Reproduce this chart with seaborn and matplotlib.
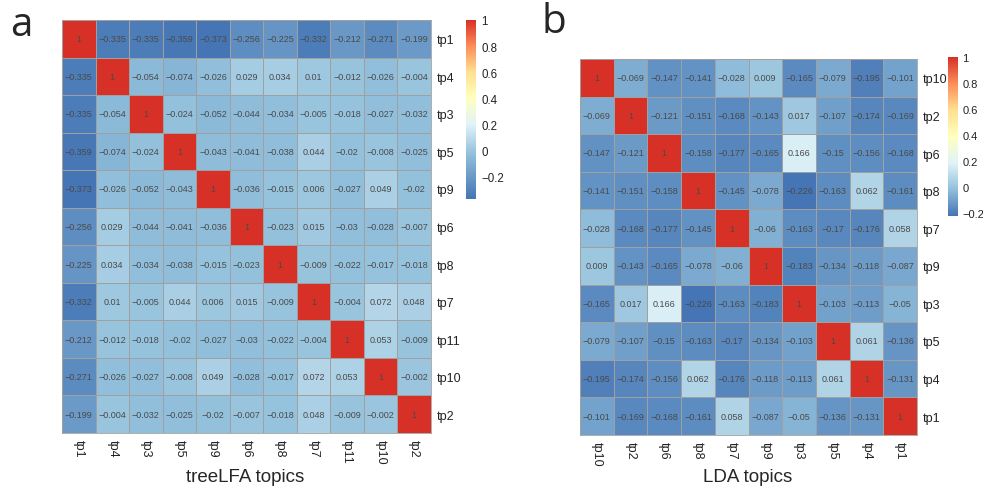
import numpy as np
import pandas as pd
import matplotlib
matplotlib.use("Agg")
import matplotlib.pyplot as plt
import seaborn as sns
from matplotlib.colors import LinearSegmentedColormap

# ---------------- data ----------------
tree_topics = ["tp1", "tp4", "tp3", "tp5", "tp9", "tp6", "tp8", "tp7", "tp11", "tp10", "tp2"]
tree_values = [
    [1, -0.335, -0.335, -0.359, -0.373, -0.256, -0.225, -0.332, -0.212, -0.271, -0.199],
    [-0.335, 1, -0.054, -0.074, -0.026, 0.029, 0.034, 0.01, -0.012, -0.026, -0.004],
    [-0.335, -0.054, 1, -0.024, -0.052, -0.044, -0.034, -0.005, -0.018, -0.027, -0.032],
    [-0.359, -0.074, -0.024, 1, -0.043, -0.041, -0.038, 0.044, -0.02, -0.008, -0.025],
    [-0.373, -0.026, -0.052, -0.043, 1, -0.036, -0.015, 0.006, -0.027, 0.049, -0.02],
    [-0.256, 0.029, -0.044, -0.041, -0.036, 1, -0.023, 0.015, -0.03, -0.028, -0.007],
    [-0.225, 0.034, -0.034, -0.038, -0.015, -0.023, 1, -0.009, -0.022, -0.017, -0.018],
    [-0.332, 0.01, -0.005, 0.044, 0.006, 0.015, -0.009, 1, -0.004, 0.072, 0.048],
    [-0.212, -0.012, -0.018, -0.02, -0.027, -0.03, -0.022, -0.004, 1, 0.053, -0.009],
    [-0.271, -0.026, -0.027, -0.008, 0.049, -0.028, -0.017, 0.072, 0.053, 1, -0.002],
    [-0.199, -0.004, -0.032, -0.025, -0.02, -0.007, -0.018, 0.048, -0.009, -0.002, 1],
]

lda_topics = ["tp10", "tp2", "tp6", "tp8", "tp7", "tp9", "tp3", "tp5", "tp4", "tp1"]
lda_values = [
    [1, -0.069, -0.147, -0.141, -0.028, 0.009, -0.165, -0.079, -0.195, -0.101],
    [-0.069, 1, -0.121, -0.151, -0.168, -0.143, 0.017, -0.107, -0.174, -0.169],
    [-0.147, -0.121, 1, -0.158, -0.177, -0.165, 0.166, -0.15, -0.156, -0.168],
    [-0.141, -0.151, -0.158, 1, -0.145, -0.078, -0.226, -0.163, 0.062, -0.161],
    [-0.028, -0.168, -0.177, -0.145, 1, -0.06, -0.163, -0.17, -0.176, 0.058],
    [0.009, -0.143, -0.165, -0.078, -0.06, 1, -0.183, -0.134, -0.118, -0.087],
    [-0.165, 0.017, 0.166, -0.226, -0.163, -0.183, 1, -0.103, -0.113, -0.05],
    [-0.079, -0.107, -0.15, -0.163, -0.17, -0.134, -0.103, 1, 0.061, -0.136],
    [-0.195, -0.174, -0.156, 0.062, -0.176, -0.118, -0.113, 0.061, 1, -0.131],
    [-0.101, -0.169, -0.168, -0.161, 0.058, -0.087, -0.05, -0.136, -0.131, 1],
]

cbar_ticks = [-0.2, 0, 0.2, 0.4, 0.6, 0.8, 1]
cbar_ticklabels = ["\u22120.2", "0", "0.2", "0.4", "0.6", "0.8", "1"]

panel_letters = ["a", "b"]
axis_titles = ["treeLFA topics", "LDA topics"]

# ---------------- style ----------------
sns.set_style("white")
plt.rcParams["font.family"] = ["Liberation Sans", "DejaVu Sans"]

palette = ["#4575B4", "#91BFDB", "#E0F3F8", "#FFFFBF", "#FEE090", "#FC8D59", "#D73027"]
cmap_b = LinearSegmentedColormap.from_list("rdylbu_r7", palette, N=256)
stops_a = [0.0, 0.25, 0.417, 0.563, 0.71, 0.855, 1.0]
cmap_a = LinearSegmentedColormap.from_list("rdylbu_r7a", list(zip(stops_a, palette)), N=256)

W, H = 983, 489
fig = plt.figure(figsize=(W / 100, H / 100), dpi=100)


def px_axes(x0, y0, x1, y1):
    return fig.add_axes([x0 / W, 1 - y1 / H, (x1 - x0) / W, (y1 - y0) / H])


def fmt_lab(v):
    s = f"{v:g}"
    return s.replace("-", "\u2212")


def draw(topics, values, cmap, hm_box, cb_box, cb_fs, cb_pad):
    df = pd.DataFrame(values, index=topics, columns=topics)
    annot = np.vectorize(fmt_lab)(df.values)
    ax = px_axes(*hm_box)
    cax = px_axes(*cb_box)
    vmin = df.values.min()
    vmax = df.values.max()
    sns.heatmap(df, ax=ax, cbar_ax=cax, cmap=cmap, vmin=vmin, vmax=vmax,
                annot=annot, fmt="", linewidths=0.6, linecolor="#A0A0A0",
                annot_kws={"fontsize": 6.5, "color": "#4a4a4a"},
                cbar_kws={"ticks": cbar_ticks})
    ax.yaxis.tick_right()
    ax.set_yticklabels(topics, rotation=0, fontsize=9, color="#222222")
    ax.set_xticklabels(topics, rotation=270, fontsize=9, color="#222222")
    ax.tick_params(axis="both", length=0, pad=4)
    ax.set_xlabel("")
    ax.set_ylabel("")
    for s in ax.spines.values():
        s.set_visible(True)
        s.set_color("#A0A0A0")
        s.set_linewidth(0.6)
    cax.set_yticks(cbar_ticks)
    cax.set_yticklabels(cbar_ticklabels, fontsize=cb_fs, color="#222222")
    cax.tick_params(length=0, pad=cb_pad)
    for s in cax.spines.values():
        s.set_visible(False)
    return ax


draw(tree_topics, tree_values, cmap_a, (62, 21, 431, 434), (466, 21, 476, 200), 8.3, 4)
draw(lda_topics, lda_values, cmap_b, (580, 60, 917, 436), (948, 58, 958, 217), 8.0, 3)

fig.text(21 / W, 1 - 26 / H, panel_letters[0], fontsize=29, ha="center", va="center",
         family=["Open Sans", "DejaVu Sans"])
fig.text(554 / W, 1 - 23 / H, panel_letters[1], fontsize=29, ha="center", va="center",
         family=["Open Sans", "DejaVu Sans"])
fig.text(245 / W, 1 - 478 / H, axis_titles[0], fontsize=13.5, ha="center", va="center")
fig.text(748 / W, 1 - 478 / H, axis_titles[1], fontsize=13.5, ha="center", va="center")

fig.savefig("out.png", dpi=100)
